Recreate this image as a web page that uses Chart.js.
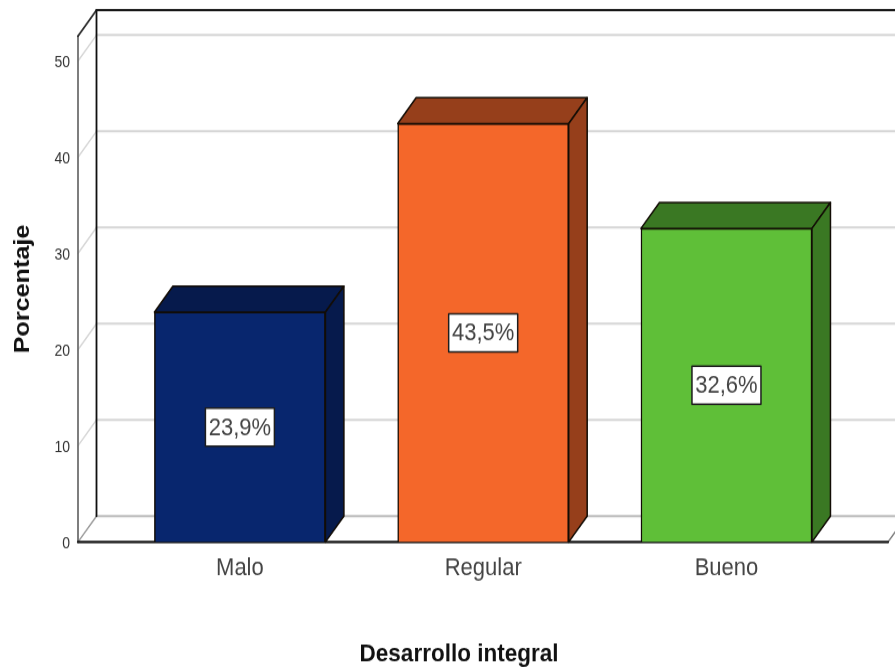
<!DOCTYPE html>
<html lang="es">
<head>
<meta charset="utf-8">
<title>Desarrollo integral</title>
<script src="https://cdn.jsdelivr.net/npm/chart.js@4"></script>
<style>
html,body{margin:0;padding:0;background:#fff;overflow:hidden}
#c{display:block;width:895px !important;height:668px !important;filter:blur(.6px)}
</style>
</head>
<body>
<canvas id="c" width="895" height="597"></canvas>
<script>
const categories = ["Malo", "Regular", "Bueno"];
const values = [23.9, 43.5, 32.6];
const frontColors = ["#08266e", "#f4672a", "#5fbf38"];
const sideColors = ["#061a4c", "#963f1b", "#3a7823"];
const yTicks = [0, 10, 20, 30, 40, 50];
const xTitle = "Desarrollo integral";
const yTitle = "Porcentaje";

const FONT = '"Liberation Sans", Arial, sans-serif';
const DX = 18.5, DY = 23.2;

const depthPlugin = {
  id: "depth",
  beforeDatasetsDraw(chart) {
    const { ctx, chartArea: a, scales: { y } } = chart;
    ctx.save();
    ctx.lineCap = "round";
    const line = (x1, y1, x2, y2, color, w) => {
      ctx.beginPath(); ctx.moveTo(x1, y1); ctx.lineTo(x2, y2);
      ctx.strokeStyle = color; ctx.lineWidth = w; ctx.stroke();
    };
    yTicks.forEach(t => {
      const p = y.getPixelForValue(t);
      const isZero = t === 0;
      line(a.left, p, a.left + DX, p - DY, isZero ? "#9a9a9a" : "#d6d6d6", 1.4);
      line(a.left + DX, p - DY, a.right + DX, p - DY, isZero ? "#bdbdbd" : "#d6d6d6", 2);
    });
    line(a.left, a.top, a.left, a.bottom, "#707070", 1.8);
    line(a.left, a.top, a.left + DX, a.top - DY, "#2c2c2c", 1.8);
    line(a.left + DX, a.top - DY, a.left + DX, a.bottom - DY, "#101010", 1.8);
    line(a.left + DX, a.top - DY, a.right + DX, a.top - DY, "#161616", 2);
    line(a.right, a.bottom, a.right + DX, a.bottom - DY, "#7a7a7a", 1.4);
    line(a.left, a.bottom, a.right, a.bottom, "#161616", 2.2);
    ctx.restore();
  },
  afterDatasetsDraw(chart) {
    const { ctx } = chart;
    const meta = chart.getDatasetMeta(0);
    ctx.save();
    meta.data.forEach((bar, i) => {
      const half = bar.width / 2;
      const l = bar.x - half, r = bar.x + half, top = bar.y, base = bar.base;
      ctx.fillStyle = sideColors[i];
      ctx.strokeStyle = "#120c05";
      ctx.lineWidth = 1.5;
      ctx.lineJoin = "round";
      ctx.beginPath();
      ctx.moveTo(l, top); ctx.lineTo(l + DX, top - DY); ctx.lineTo(r + DX, top - DY); ctx.lineTo(r, top);
      ctx.closePath(); ctx.fill(); ctx.stroke();
      ctx.beginPath();
      ctx.moveTo(r, top); ctx.lineTo(r + DX, top - DY); ctx.lineTo(r + DX, base - DY); ctx.lineTo(r, base);
      ctx.closePath(); ctx.fill(); ctx.stroke();

      const txt = values[i].toFixed(1).replace(".", ",") + "%";
      const cy = (top + base) / 2;
      const bw = 69, bh = 34;
      ctx.fillStyle = "#ffffff";
      ctx.strokeStyle = "#1e1e1e";
      ctx.lineWidth = 1.5;
      ctx.fillRect(bar.x - bw / 2, cy - bh / 2, bw, bh);
      ctx.strokeRect(bar.x - bw / 2, cy - bh / 2, bw, bh);
      ctx.fillStyle = "#444444";
      ctx.font = "22px " + FONT;
      ctx.textAlign = "center";
      ctx.textBaseline = "middle";
      ctx.fillText(txt, bar.x, cy + 1);
    });
    ctx.fillStyle = "#111111";
    ctx.font = "bold 22.5px " + FONT;
    ctx.textAlign = "center";
    ctx.textBaseline = "middle";
    ctx.fillText(xTitle, 459, 585);
    ctx.restore();
  }
};

new Chart(document.getElementById("c"), {
  type: "bar",
  data: {
    datasets: [{
      data: categories.map((c, i) => ({ x: i, y: values[i] })),
      backgroundColor: frontColors,
      borderColor: "#120c05",
      borderWidth: 1.5,
      barThickness: 171
    }]
  },
  plugins: [depthPlugin],
  options: {
    responsive: false,
    animation: false,
    devicePixelRatio: 1,
    layout: { padding: { top: 32.2, right: 7, left: 0, bottom: 0 } },
    plugins: { legend: { display: false }, title: { display: false }, tooltip: { enabled: false } },
    scales: {
      x: {
        type: "linear",
        offset: false,
        min: -0.6655,
        max: 2.664,
        grid: { display: false, drawTicks: false, offset: false },
        border: { display: false },
        afterBuildTicks(s) { s.ticks = categories.map((c, i) => ({ value: i })); },
        afterFit(s) { s.height = 112.6; },
        ticks: {
          autoSkip: false, maxRotation: 0, padding: 10,
          color: "#444444",
          font: { family: FONT, size: 22 },
          callback: v => categories[v]
        }
      },
      y: {
        min: 0,
        max: 52.6,
        grid: { display: false, drawTicks: false },
        border: { display: false },
        afterBuildTicks(s) { s.ticks = yTicks.map(v => ({ value: v })); },
        afterFit(s) { s.width = 78; },
        ticks: { padding: 8, labelOffset: 2, color: "#333333", font: { family: FONT, size: 14 } },
        title: { display: true, text: yTitle, color: "#111111", padding: { top: 9, bottom: 0 }, font: { family: FONT, size: 22.5, weight: "bold" } }
      }
    }
  }
});
</script>
</body>
</html>
